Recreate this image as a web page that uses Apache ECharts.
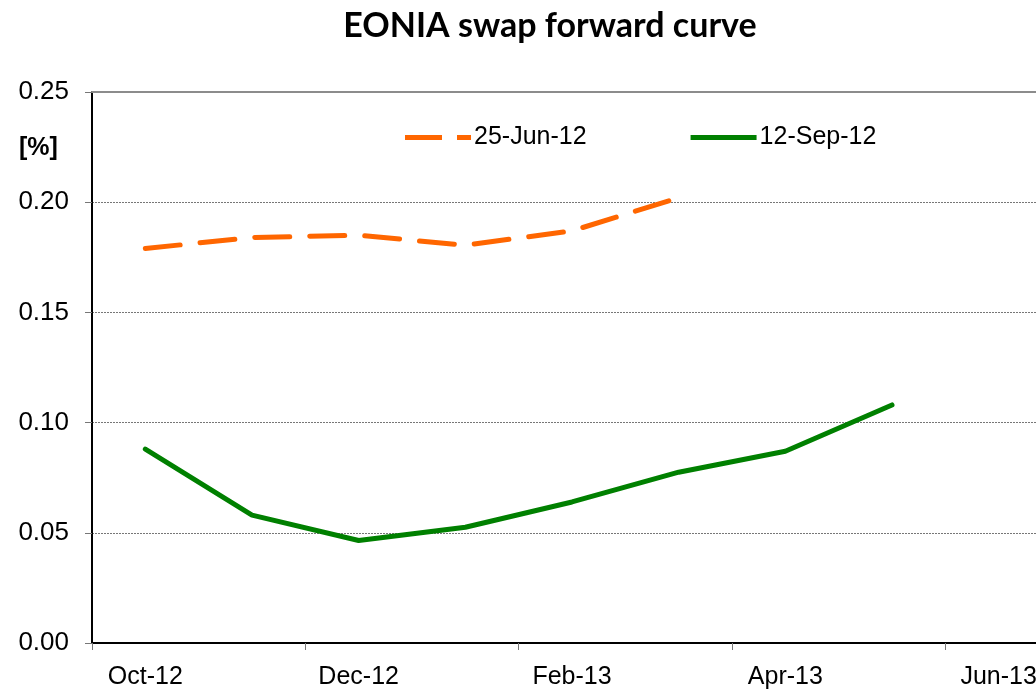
<!DOCTYPE html>
<html><head><meta charset="utf-8">
<script src="https://cdn.jsdelivr.net/npm/echarts@6/dist/echarts.min.js"></script>
<style>html,body{margin:0;padding:0;background:#fff;overflow:hidden;width:1036px;height:691px}#c{width:1100px;height:691px}</style>
</head><body><div id="c"></div>
<script>
const categories = ['Oct-12','Nov-12','Dec-12','Jan-13','Feb-13','Mar-13','Apr-13','May-13','Jun-13'];
const seriesNames = ['25-Jun-12','12-Sep-12'];
const june = [0.179,0.184,0.185,0.1805,0.187,0.202];
const sept = [0.088,0.058,0.0465,0.0525,0.064,0.0775,0.087,0.108];
const yTicks = [0,0.05,0.10,0.15,0.20,0.25];

const chart = echarts.init(document.getElementById('c'), null, {renderer:'canvas'});
const font = 'Liberation Sans, Arial, sans-serif';
chart.setOption({
  animation:false,
  backgroundColor:'#fff',
  title:{text:'EONIA swap forward curve',left:545,top:4,textAlign:'center',
    textStyle:{fontFamily:'Lato, sans-serif',fontWeight:'bold',fontSize:34,color:'#000'}},
  legend:{left:400,top:120,itemWidth:66,itemHeight:5,itemGap:104,
    textStyle:{fontFamily:font,fontSize:25,color:'#000',padding:[0,0,0,-2]},
    data:[{name:seriesNames[0],icon:'path://M0,0h37v5h-37z M52,0h14v5h-14z'},
          {name:seriesNames[1],icon:'path://M0,0h66v5h-66z'}]},
  graphic:[{type:'text',left:19,top:136,style:{text:'[%]',fontFamily:font,fontWeight:'bold',fontSize:25,fill:'#000'}}],
  grid:{left:92,top:92,bottom:48,right:48},
  xAxis:[{type:'category',data:categories,boundaryGap:true,
    axisLine:{lineStyle:{color:'#000',width:2}},
    axisTick:{show:true,interval:1,length:7,inside:false,lineStyle:{color:'#777',width:1}},
    axisLabel:{interval:1,margin:22,fontFamily:font,fontSize:25,color:'#000'},
    splitLine:{show:false}},
   {type:'category',data:categories,position:'top',
    axisLine:{show:true,onZero:false,lineStyle:{color:'#8c8c8c',width:2}},
    axisTick:{show:false},axisLabel:{show:false},splitLine:{show:false}}],
  yAxis:{type:'value',min:yTicks[0],max:yTicks[yTicks.length-1],interval:0.05,
    axisLine:{show:true,lineStyle:{color:'#000',width:2}},
    axisTick:{show:true,length:7,lineStyle:{color:'#777',width:1}},
    axisLabel:{margin:23,fontFamily:font,fontSize:26,color:'#000',formatter:v=>v.toFixed(2)},
    splitLine:{show:true,lineStyle:{color:'#777',type:[2,1],width:1}}},
  series:[
    {name:seriesNames[0],type:'line',data:june,symbol:'none',smooth:false,
      itemStyle:{color:'#ff6600'},
      lineStyle:{color:'#ff6600',width:5,type:[35,20],cap:'round'}},
    {name:seriesNames[1],type:'line',data:sept,symbol:'none',
      itemStyle:{color:'#008000'},
      lineStyle:{color:'#008000',width:5,cap:'round'}}
  ]
});
</script></body></html>
